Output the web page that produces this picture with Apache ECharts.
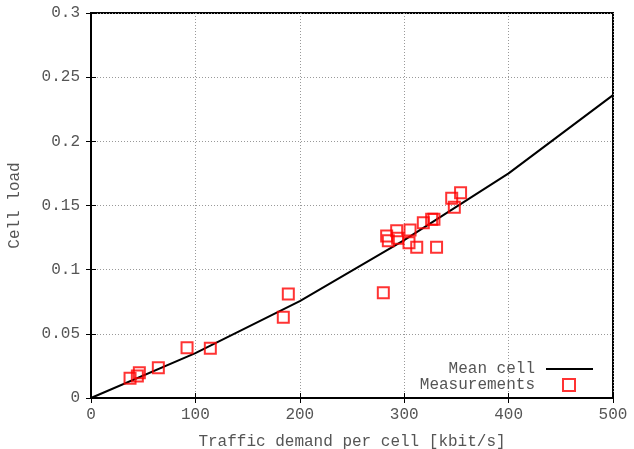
<!DOCTYPE html>
<html>
<head>
<meta charset="utf-8">
<script src="https://cdn.jsdelivr.net/npm/echarts@6/dist/echarts.min.js"></script>
<style>html,body{margin:0;padding:0;background:#fff;}#c{width:634px;height:449px;}</style>
</head>
<body>
<div id="c"></div>
<script>
var meanX = [0, 100, 200, 300, 400, 500];
var meanY = [0, 0.035, 0.0755, 0.123, 0.175, 0.236];
var measX = [37.4, 44.4, 46.3, 64.5, 92, 114.3, 184.2, 189, 280, 283.2, 284.8, 292.8, 293.7, 304.6, 305.6, 312, 318.3, 326.3, 328.5, 331, 345.5, 348, 354];
var measY = [0.0153, 0.0171, 0.0197, 0.0236, 0.0392, 0.0387, 0.0629, 0.081, 0.082, 0.1262, 0.1226, 0.1304, 0.1244, 0.121, 0.1309, 0.1174, 0.1366, 0.1392, 0.1392, 0.1174, 0.1556, 0.1486, 0.16];
var xTicks = [0, 100, 200, 300, 400, 500];
var yTicks = [0, 0.05, 0.1, 0.15, 0.2, 0.25, 0.3];

function zip(a, b) { return a.map(function (v, i) { return [v, b[i]]; }); }

var font = 'Liberation Mono';
var txt = '#555';
var chart = echarts.init(document.getElementById('c'));
var gridLine = { show: true, lineStyle: { color: '#999', type: [1, 2], width: 1 } };
chart.setOption({
  animation: false,
  backgroundColor: '#fff',
  grid: { left: 91, right: 21, top: 13, bottom: 51, show: true, borderColor: '#000', borderWidth: 2,
    backgroundColor: 'transparent', containLabel: false, outerBoundsMode: 'none' },
  xAxis: [{
    type: 'value', min: 0, max: 500, interval: 100,
    name: 'Traffic demand per cell [kbit/s]', nameLocation: 'middle', nameGap: 36,
    nameTextStyle: { fontFamily: font, fontSize: 16, color: txt },
    axisLine: { show: true, lineStyle: { color: '#000', width: 2 } },
    axisTick: { show: true, inside: true, length: 5, lineStyle: { color: '#000' } },
    axisLabel: { fontFamily: font, fontSize: 16, color: txt, margin: 9 },
    splitLine: gridLine
  }, {
    type: 'value', min: 0, max: 500, interval: 100, position: 'top',
    axisLine: { show: false }, axisTick: { show: true, inside: true, length: 5, lineStyle: { color: '#000' } },
    axisLabel: { show: false }, splitLine: { show: false }
  }],
  yAxis: [{
    type: 'value', min: 0, max: 0.3, interval: 0.05,
    name: 'Cell load', nameLocation: 'middle', nameGap: 68,
    nameTextStyle: { fontFamily: font, fontSize: 16, color: txt },
    axisLine: { show: true, lineStyle: { color: '#000', width: 2 } },
    axisTick: { show: true, inside: true, length: 5, lineStyle: { color: '#000' } },
    axisLabel: { fontFamily: font, fontSize: 16, color: txt, margin: 11,
      formatter: function (v) { return String(+v.toFixed(2)); } },
    splitLine: gridLine
  }, {
    type: 'value', min: 0, max: 0.3, interval: 0.05, position: 'right',
    axisLine: { show: false }, axisTick: { show: true, inside: true, length: 5, lineStyle: { color: '#000' } },
    axisLabel: { show: false }, splitLine: { show: false }
  }],
  legend: [{
    data: [{ name: 'Mean cell', icon: 'path://M0,0L47,0L47,2L0,2Z' }], right: 36, top: 356, align: 'right', orient: 'vertical',
    itemWidth: 47, itemHeight: 2,
    textStyle: { fontFamily: font, fontSize: 16, color: txt, padding: [0, 6, 0, 0] }
  }, {
    data: ['Measurements'], right: 53, top: 372, align: 'right', orient: 'vertical',
    itemWidth: 12, itemHeight: 12,
    textStyle: { fontFamily: font, fontSize: 16, color: txt, padding: [0, 23, 0, 0] }
  }],
  series: [{
    name: 'Mean cell', type: 'line', data: zip(meanX, meanY), showSymbol: false, symbol: 'none',
    lineStyle: { color: '#000', width: 2 }, itemStyle: { color: '#000' }, z: 3
  }, {
    name: 'Measurements', type: 'scatter', data: zip(measX, measY), symbol: 'rect', symbolSize: 11,
    itemStyle: { color: 'rgba(0,0,0,0)', borderColor: '#ff0000', borderWidth: 2 }, z: 4
  }]
});
</script>
</body>
</html>
